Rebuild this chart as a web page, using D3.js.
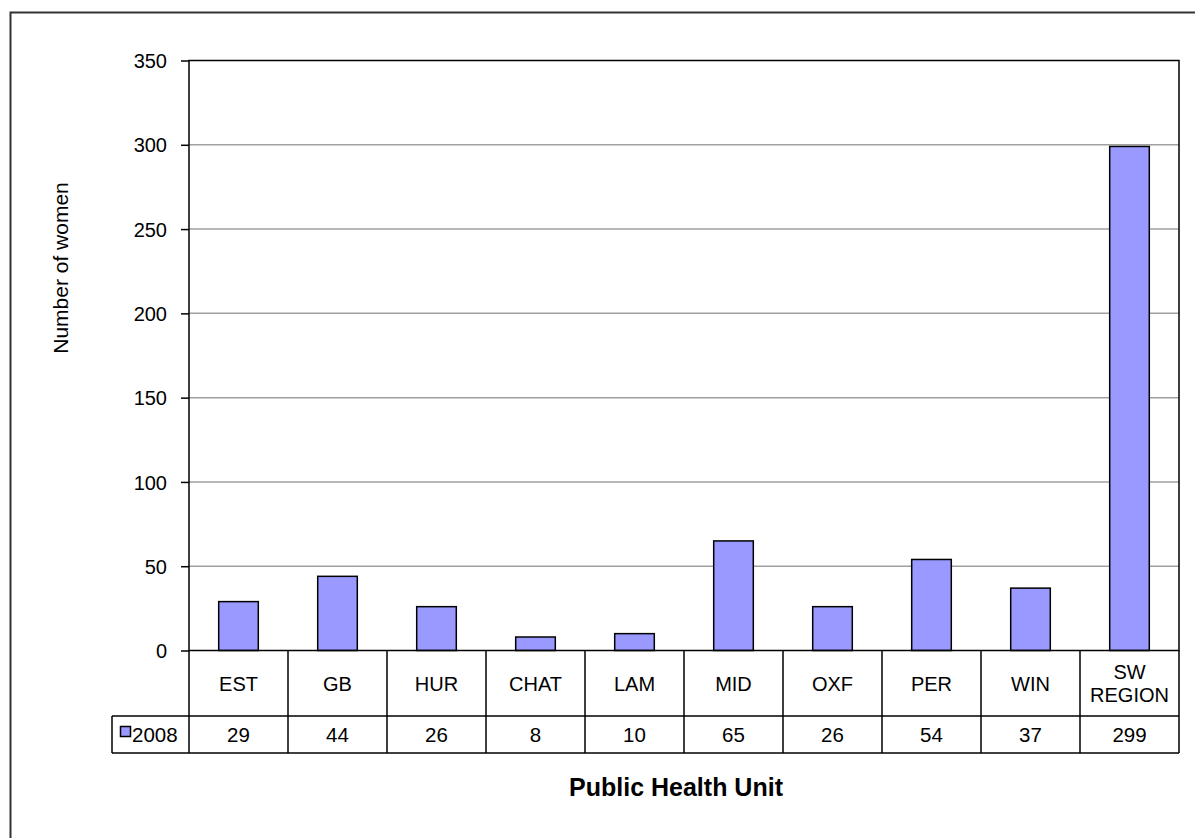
<!DOCTYPE html>
<html><head><meta charset="utf-8">
<script src="https://cdn.jsdelivr.net/npm/d3@7"></script>
<style>body{margin:0;background:#fff}svg{display:block;font-family:Arial,"Liberation Sans",sans-serif}</style>
</head><body><svg id="c" width="1195" height="838"></svg>
<script>
const categories = [["EST"],["GB"],["HUR"],["CHAT"],["LAM"],["MID"],["OXF"],["PER"],["WIN"],["SW","REGION"]];
const seriesName = "2008";
const values = [29,44,26,8,10,65,26,54,37,299];
const yTicks = [0,50,100,150,200,250,300,350];

const svg = d3.select("#c");
const L=189, R=1179, T=60.5, B=650.5;
const row1B=716, row2B=753, legL=112;
const keys = categories.map(c=>c.join(" "));
const x = d3.scaleBand().domain(keys).range([L,R]).paddingInner(0.6).paddingOuter(0.3);
const xb = d3.scaleBand().domain(keys).range([L,R]);
const y = d3.scaleLinear().domain([0,350]).range([B,T]);

// outer border
svg.append("path").attr("d",`M10.5,${838+5} V12.5 H${1200}`).attr("fill","none").attr("stroke","#333").attr("stroke-width",2);

// gridlines
svg.append("g").selectAll("line").data(yTicks.filter(d=>d>0&&d<350)).join("line")
  .attr("x1",L).attr("x2",R).attr("y1",d=>y(d)).attr("y2",d=>y(d))
  .attr("stroke","#a0a0a0").attr("stroke-width",1.5);

// y axis
const ya = svg.append("g").attr("transform",`translate(${L},0)`)
  .call(d3.axisLeft(y).tickValues(yTicks).tickSize(8).tickPadding(14));
ya.select(".domain").remove();
ya.selectAll("line").attr("stroke","#000").attr("stroke-width",1.5);
ya.selectAll("text").attr("font-size",20).attr("dy","0.36em").attr("fill","#000").attr("font-family","Arial,'Liberation Sans',sans-serif");

// bars
svg.append("g").selectAll("rect").data(values).join("rect")
  .attr("x",(d,i)=>x(keys[i])).attr("width",x.bandwidth())
  .attr("y",d=>y(d)).attr("height",d=>B-y(d))
  .attr("fill","#9999ff").attr("stroke","#000").attr("stroke-width",1.5);

// plot frame
svg.append("rect").attr("x",L).attr("y",T).attr("width",R-L).attr("height",B-T)
  .attr("fill","none").attr("stroke","#000").attr("stroke-width",1.5);

// data table
const tg = svg.append("g").attr("stroke","#000").attr("stroke-width",1.5);
tg.append("line").attr("x1",legL).attr("x2",R).attr("y1",row1B).attr("y2",row1B);
tg.append("line").attr("x1",legL).attr("x2",R).attr("y1",row2B).attr("y2",row2B);
tg.append("line").attr("x1",legL).attr("x2",legL).attr("y1",row1B).attr("y2",row2B);
tg.selectAll("line.v").data(keys.concat(["__end"])).join("line").attr("class","v")
  .attr("x1",(d,i)=>i<keys.length?xb(d):R).attr("x2",(d,i)=>i<keys.length?xb(d):R)
  .attr("y1",B).attr("y2",row2B);

// category labels
const cl = svg.append("g").attr("font-size",20).attr("text-anchor","middle").attr("fill","#000");
categories.forEach((c,i)=>{
  const cx = xb(keys[i])+xb.bandwidth()/2;
  const mid = (B+row1B)/2;
  c.forEach((t,j)=>{
    cl.append("text").attr("x",cx).attr("y",mid+7.5+(j-(c.length-1)/2)*23).text(t);
  });
});
// values row
svg.append("g").attr("font-size",20.5).attr("text-anchor","middle").selectAll("text").data(values).join("text")
  .attr("x",(d,i)=>xb(keys[i])+xb.bandwidth()/2).attr("y",(row1B+row2B)/2+7.5).text(d=>d);
// legend cell
svg.append("rect").attr("x",120.5).attr("y",726.5).attr("width",10).attr("height",10).attr("fill","#9999ff").attr("stroke","#000").attr("stroke-width",1.5);
svg.append("text").attr("x",132).attr("y",(row1B+row2B)/2+7.5).attr("font-size",20.5).text(seriesName);

// axis titles
svg.append("text").attr("x",676).attr("y",796).attr("text-anchor","middle").attr("font-size",25).attr("font-weight","bold").text("Public Health Unit");
svg.append("text").attr("transform","translate(68,268) rotate(-90)").attr("text-anchor","middle").attr("font-size",21).attr("letter-spacing",0).text("Number of women");
</script></body></html>
